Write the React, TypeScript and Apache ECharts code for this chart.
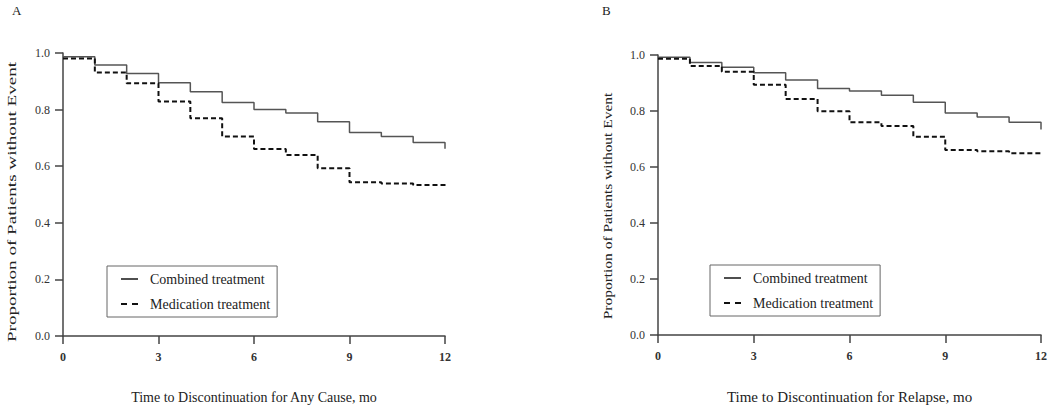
import React, { useEffect, useRef } from "react";
import * as echarts from "echarts";

const months = [0, 1, 2, 3, 4, 5, 6, 7, 8, 9, 10, 11, 12];
const seriesNames = ["Combined treatment", "Medication treatment"];

const anyCauseCombined = [0.987, 0.958, 0.928, 0.895, 0.863, 0.825, 0.8, 0.788, 0.757, 0.719, 0.705, 0.684, 0.662];
const anyCauseMedication = [0.981, 0.931, 0.893, 0.829, 0.769, 0.705, 0.661, 0.64, 0.593, 0.543, 0.539, 0.534, 0.529];
const relapseCombined = [0.992, 0.973, 0.956, 0.937, 0.911, 0.88, 0.871, 0.856, 0.831, 0.793, 0.779, 0.76, 0.734];
const relapseMedication = [0.987, 0.961, 0.94, 0.894, 0.843, 0.799, 0.76, 0.746, 0.708, 0.661, 0.656, 0.649, 0.645];

const panelLabels = ["A", "B"];
const xTitles = ["Time to Discontinuation for Any Cause, mo", "Time to Discontinuation for Relapse, mo"];
const yTitle = "Proportion of Patients without Event";

const FONT = '"Liberation Serif", "Times New Roman", serif';

const pairs = (vals: number[]) => months.map((m, i) => [m, vals[i]]);

export default function App() {
  const ref = useRef<HTMLDivElement>(null);
  useEffect(() => {
    if (!ref.current) return;
    const chart = echarts.init(ref.current, null, { renderer: "svg" });

    const axisLine = { show: true, lineStyle: { color: "#444", width: 1.5 } };
    const axisTick = { show: true, length: 8, lineStyle: { color: "#444", width: 1.5 } };

    const makeX = (idx: number, fs: number) => ({
      type: "value",
      gridIndex: idx,
      min: 0,
      max: 12,
      interval: 3,
      axisLine,
      axisTick,
      splitLine: { show: false },
      axisLabel: { color: "#333", fontFamily: FONT, fontSize: 12, margin: 15, fontWeight: "bold" },
      name: xTitles[idx],
      nameLocation: "middle",
      nameGap: 54,
      nameTextStyle: { color: "#222", fontFamily: FONT, fontSize: fs },
    });
    const makeY = (idx: number) => ({
      type: "value",
      gridIndex: idx,
      min: 0,
      max: 1,
      interval: 0.2,
      axisLine,
      axisTick,
      splitLine: { show: false },
      axisLabel: {
        color: "#333",
        fontFamily: FONT,
        fontSize: 12,
        margin: 13,
        formatter: (v: number) => v.toFixed(1),
      },
    });

    const solid = { color: "#555", width: 1.5, type: "solid" };
    const dashed = { color: "#111", width: 2, type: [5, 3] };

    const mkSeries = (name: string, vals: number[], idx: number, ls: any) => ({
      type: "line",
      name,
      xAxisIndex: idx,
      yAxisIndex: idx,
      data: pairs(vals),
      step: "end",
      symbol: "none",
      lineStyle: ls,
      itemStyle: { color: ls.color },
    });

    const legendBase = {
      orient: "vertical",
      padding: [6, 7, 6, 14],
      itemWidth: 17,
      itemHeight: 14,
      itemGap: 11,
      borderColor: "#666",
      borderWidth: 1,
      backgroundColor: "#fff",
      data: [
        { name: seriesNames[0], icon: "path://M0 0H17V1.6H0Z", itemStyle: { color: "#222" } },
        { name: seriesNames[1], icon: "path://M0 0H6V2H0Z M11 0H17V2H11Z", itemStyle: { color: "#111" } },
      ],
      selectedMode: false,
      textStyle: { fontFamily: FONT, fontSize: 14, color: "#222", padding: [0, 0, 0, 7] },
    };

    chart.setOption({
      animation: false,
      backgroundColor: "#fff",
      grid: [
        { left: 63, top: 53, width: 382, height: 284 },
        { left: 658, top: 55, width: 384, height: 282 },
      ],
      xAxis: [makeX(0, 14), makeX(1, 15)],
      yAxis: [makeY(0), makeY(1)],
      legend: [
        { ...legendBase, left: 107, top: 266 },
        { ...legendBase, left: 710, top: 265 },
      ],
      series: [
        mkSeries(seriesNames[0], anyCauseCombined, 0, solid),
        mkSeries(seriesNames[1], anyCauseMedication, 0, dashed),
        mkSeries(seriesNames[0], relapseCombined, 1, solid),
        mkSeries(seriesNames[1], relapseMedication, 1, dashed),
      ],
      graphic: [
        {
          type: "text",
          left: 12,
          top: 4,
          style: { text: panelLabels[0], fontFamily: FONT, fontSize: 13, fill: "#222" },
        },
        {
          type: "text",
          left: 602,
          top: 4,
          style: { text: panelLabels[1], fontFamily: FONT, fontSize: 13, fill: "#222" },
        },
        {
          type: "text",
          x: 12,
          y: 202,
          rotation: Math.PI / 2,
          scaleX: 1.47,
          style: {
            text: yTitle,
            fontFamily: FONT,
            fontSize: 13,
            fill: "#222",
            align: "center",
            verticalAlign: "middle",
          },
        },
        {
          type: "text",
          x: 607.5,
          y: 206,
          rotation: Math.PI / 2,
          scaleX: 1.19,
          style: {
            text: yTitle,
            fontFamily: FONT,
            fontSize: 13,
            fill: "#222",
            align: "center",
            verticalAlign: "middle",
          },
        },
      ],
    });
    return () => chart.dispose();
  }, []);
  return (
    <div
      ref={ref}
      style={{ position: "fixed", left: 0, top: 0, width: 1050, height: 409 }}
    />
  );
}
